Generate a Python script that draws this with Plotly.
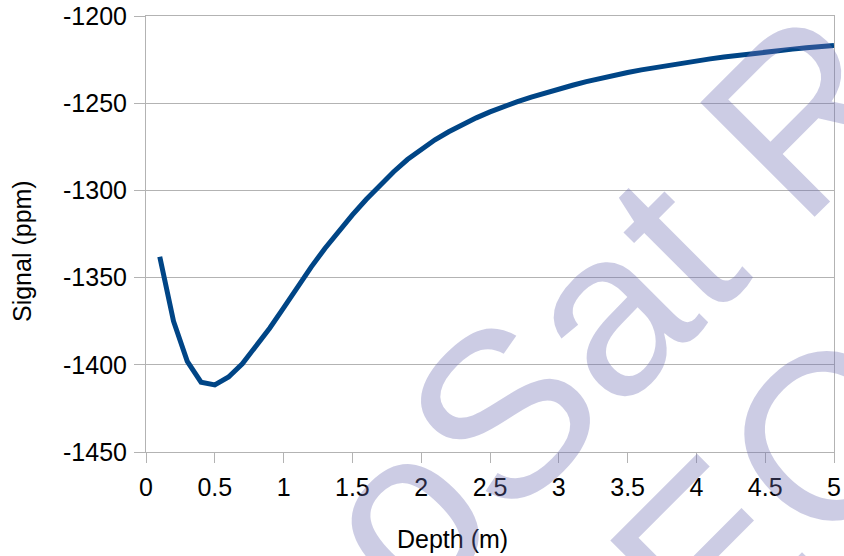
import plotly.graph_objects as go

depth = [0.1, 0.2, 0.3, 0.4, 0.5, 0.6, 0.7, 0.8, 0.9, 1.0,
         1.1, 1.2, 1.3, 1.4, 1.5, 1.6, 1.7, 1.8, 1.9, 2.0,
         2.1, 2.2, 2.3, 2.4, 2.5, 2.6, 2.7, 2.8, 2.9, 3.0,
         3.1, 3.2, 3.3, 3.4, 3.5, 3.6, 3.7, 3.8, 3.9, 4.0,
         4.1, 4.2, 4.3, 4.4, 4.5, 4.6, 4.7, 4.8, 4.9, 5.0]
signal = [-1338, -1375, -1398, -1410, -1411.5, -1407, -1399.4, -1389.6, -1378.9, -1367.4,
          -1355.5, -1344.0, -1333.3, -1323.3, -1314.0, -1305.2, -1297.0, -1289.3, -1282.3, -1276.2,
          -1271.0, -1266.4, -1262.2, -1258.4, -1255.0, -1251.9, -1249.1, -1246.5, -1244.1, -1241.9,
          -1239.7, -1237.65, -1235.75, -1234.0, -1232.4, -1230.9, -1229.5, -1228.2, -1226.9, -1225.75,
          -1224.6, -1223.5, -1222.5, -1221.55, -1220.65, -1219.8, -1219.0, -1218.25, -1217.55, -1216.9]

x_tickvals = [0, 0.5, 1, 1.5, 2, 2.5, 3, 3.5, 4, 4.5, 5]
x_ticktext = ["0", "0.5", "1", "1.5", "2", "2.5", "3", "3.5", "4", "4.5", "5"]
y_tickvals = [-1450, -1400, -1350, -1300, -1250, -1200]
y_ticktext = ["-1450", "-1400", "-1350", "-1300", "-1250", "-1200"]

x_title = "Depth (m)"
y_title = "Signal (ppm)"
watermark_line1 = "GeoSat R"
watermark_line2 = "EO"

FONT = "Liberation Sans, Arial, sans-serif"
GRID = "#b3b3b3"

fig = go.Figure()
fig.add_trace(go.Scatter(x=depth, y=signal, mode="lines",
                         line=dict(color="#004586", width=5),
                         showlegend=False, hoverinfo="skip"))

axis_common = dict(showline=True, linecolor=GRID, linewidth=1, mirror=True,
                   ticks="outside", tickcolor=GRID, tickwidth=1,
                   tickfont=dict(family=FONT, size=25, color="black"),
                   zeroline=False, automargin=False)

fig.update_xaxes(range=[0, 5], tickmode="array", tickvals=x_tickvals, ticktext=x_ticktext,
                 showgrid=False, ticklen=10, ticklabelstandoff=3, **axis_common)
fig.update_yaxes(range=[-1450, -1200], tickmode="array", tickvals=y_tickvals, ticktext=y_ticktext,
                 showgrid=True, gridcolor=GRID, gridwidth=1, ticklen=11,
                 ticklabelstandoff=2, **axis_common)

wm_color = "rgba(109,109,178,0.35)"
annotations = [
    dict(text=x_title, x=0.4455, y=-0.1995, xref="paper", yref="paper",
         xanchor="center", yanchor="middle", showarrow=False,
         font=dict(family=FONT, size=25, color="black")),
    dict(text=y_title, x=-0.1802, y=0.461, xref="paper", yref="paper",
         xanchor="center", yanchor="middle", showarrow=False, textangle=-90,
         font=dict(family=FONT, size=25, color="black")),
    dict(text=watermark_line1, x=0.5130, y=0.0780, xref="paper", yref="paper",
         xanchor="center", yanchor="middle", showarrow=False, textangle=-45,
         font=dict(family=FONT, size=235, color=wm_color)),
    dict(text=watermark_line2, x=0.9128, y=-0.0894, xref="paper", yref="paper",
         xanchor="center", yanchor="middle", showarrow=False, textangle=-45,
         font=dict(family=FONT, size=235, color=wm_color)),
]

fig.update_layout(width=844, height=556,
                  margin=dict(l=146, r=10, t=16, b=104, pad=0, autoexpand=False),
                  paper_bgcolor="white", plot_bgcolor="white",
                  font=dict(family=FONT, color="black"),
                  annotations=annotations)

fig.write_html("out.html",
               config={"displayModeBar": False},
               post_script="document.body.style.margin='0';document.body.style.padding='0';")
